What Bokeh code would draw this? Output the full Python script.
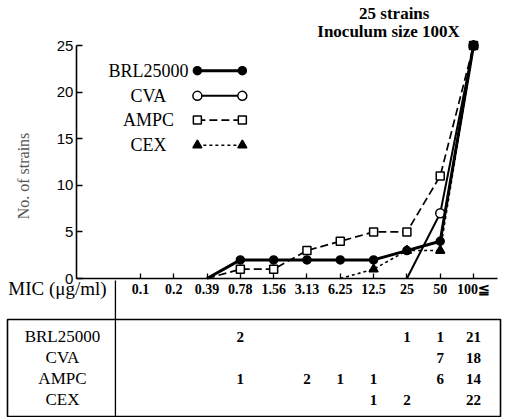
import numpy as np
from bokeh.plotting import figure
from bokeh.models import Range1d, LinearAxis, FixedTicker, Label
from bokeh.core.properties import value
from bokeh.embed import file_html
from bokeh.resources import INLINE

# MIC classes (ug/ml) and number of strains per class for each drug
mic_labels = ["0.1", "0.2", "0.39", "0.78", "1.56", "3.13", "6.25", "12.5", "25", "50", "100≦"]
drugs = ["BRL25000", "CVA", "AMPC", "CEX"]
brl25000 = [0, 0, 0, 2, 0, 0, 0, 0, 1, 1, 21]
cva = [0, 0, 0, 0, 0, 0, 0, 0, 0, 7, 18]
ampc = [0, 0, 0, 1, 0, 2, 1, 1, 0, 6, 14]
cex = [0, 0, 0, 0, 0, 0, 0, 1, 2, 0, 22]
y_ticks = [0, 5, 10, 15, 20, 25]
title_lines = ["25 strains", "Inoculum size 100X"]

counts = {"BRL25000": brl25000, "CVA": cva, "AMPC": ampc, "CEX": cex}

SERIF = "Liberation Serif"
SANS = "Liberation Sans"

# x: MIC class index, y: number of strains (cumulative)
X0, X1 = -4.2, 11.05
Y0, Y1 = -14.91, 29.83
AXIS_X = -1.92          # where the strain axis crosses
AXIS_XEND = 10.72

p = figure(width=508, height=417, x_range=Range1d(X0, X1), y_range=Range1d(Y0, Y1),
           output_backend="svg", toolbar_location=None,
           x_axis_location=None, y_axis_location=None,
           min_border=0, outline_line_color=None, background_fill_color="white")
for g in p.grid:
    g.visible = False

# table rows use their own vertical scale (row index, top to bottom)
p.extra_y_ranges = {"table": Range1d(start=3.857, end=-16.0)}

# --- axes -------------------------------------------------------------
xaxis = LinearAxis(
    ticker=FixedTicker(ticks=list(range(len(mic_labels)))),
    major_label_overrides={i: lab for i, lab in enumerate(mic_labels)},
    fixed_location=0, bounds=(AXIS_X, AXIS_XEND),
    axis_line_width=1.6, axis_line_color="black",
    major_tick_in=5, major_tick_out=0, major_tick_line_width=1.3,
    minor_tick_line_color=None,
    major_label_standoff=3,
    major_label_text_font=SERIF, major_label_text_font_style="bold",
    major_label_text_font_size="14px", major_label_text_color="black",
)
p.add_layout(xaxis, "below")

yaxis = LinearAxis(
    ticker=FixedTicker(ticks=y_ticks),
    fixed_location=AXIS_X, bounds=(0, 25),
    axis_line_width=1.6, axis_line_color="black",
    major_tick_in=6, major_tick_out=0, major_tick_line_width=1.3,
    minor_tick_line_color=None,
    major_label_standoff=3,
    major_label_text_font=SANS, major_label_text_font_size="15px",
    major_label_text_color="black",
)
p.add_layout(yaxis, "left")

# rotated caption of the strain axis
p.add_layout(Label(x=-3.5, y=11.0, text="No. of strains", angle=np.pi / 2,
                   text_align="center", text_baseline="middle", text_font=SERIF,
                   text_font_size="16px", text_color="#555555"))

# --- cumulative curves ------------------------------------------------
def curve(c):
    cum = np.cumsum(c)
    first = next(i for i, v in enumerate(c) if v > 0)
    xs = list(range(first - 1, len(c)))
    ys = [int(cum[i]) for i in xs]
    return xs, ys

styles = {
    "BRL25000": dict(line_width=3.0, line_dash="solid", marker="circle", size=8,
                     fill_color="black"),
    "CVA": dict(line_width=2.0, line_dash="solid", marker="circle", size=9,
                fill_color="white"),
    "AMPC": dict(line_width=1.7, line_dash="8 4", marker="square", size=8,
                 fill_color="white"),
    "CEX": dict(line_width=1.6, line_dash="3 3", marker="triangle", size=9,
                fill_color="black"),
}

for name in ["AMPC", "CEX", "CVA", "BRL25000"]:
    st = styles[name]
    xs, ys = curve(counts[name])
    p.line(xs, ys, line_color="black", line_width=st["line_width"], line_dash=st["line_dash"])
    p.scatter(xs[1:], ys[1:], marker=st["marker"], size=st["size"],
              fill_color=st["fill_color"], line_color="black", line_width=1.5)

# --- legend (label, then sample line with end markers) ----------------
leg_y = [22.3, 19.6, 17.0, 14.3]
leg_text_x = 0.24
leg_x0, leg_x1 = 1.71, 3.06
for name, ly in zip(drugs, leg_y):
    st = styles[name]
    p.text([leg_text_x], [ly], text=[name], text_align="center", text_baseline="middle",
           text_font=value(SERIF), text_font_size="18px", text_color="black")
    p.line([leg_x0, leg_x1], [ly, ly], line_color="black", line_width=st["line_width"],
           line_dash=st["line_dash"])
    p.scatter([leg_x0, leg_x1], [ly, ly], marker=st["marker"], size=st["size"],
              fill_color=st["fill_color"], line_color="black", line_width=1.5)

# --- title ------------------------------------------------------------
p.add_layout(Label(x=7.62, y=28.4, text=title_lines[0], text_align="center",
                   text_baseline="middle", text_font=SERIF, text_font_style="bold",
                   text_font_size="17px", text_color="black"))
p.add_layout(Label(x=7.45, y=26.5, text=title_lines[1], text_align="center",
                   text_baseline="middle", text_font=SERIF, text_font_style="bold",
                   text_font_size="17px", text_color="black"))

# --- MIC axis caption -------------------------------------------------
p.add_layout(Label(x=-2.49, y=-1.1, text="MIC (μg/ml)", text_align="center",
                   text_baseline="middle", text_font=SERIF, text_font_size="19px",
                   text_color="black"))

# --- count table ------------------------------------------------------
p.quad(left=[-3.99], right=[10.81], top=[-0.81], bottom=[3.81], y_range_name="table",
       fill_color=None, line_color="black", line_width=1.6)
p.segment(x0=[-0.75], y0=[-2.67], x1=[-0.75], y1=[3.81], y_range_name="table",
          line_color="black", line_width=1.3)

rows = list(range(len(drugs)))
p.text([-2.34] * len(drugs), rows, text=drugs, y_range_name="table",
       text_align="center", text_baseline="middle", text_font=value(SERIF),
       text_font_size="17px", text_color="black")

cell_x, cell_y, cell_t = [], [], []
for r, name in enumerate(drugs):
    for i, v in enumerate(counts[name]):
        if v > 0:
            cell_x.append(i)
            cell_y.append(r)
            cell_t.append(str(v))
p.text(cell_x, cell_y, text=cell_t, y_range_name="table", text_align="center",
       text_baseline="middle", text_font=value(SERIF), text_font_style="bold",
       text_font_size="15px", text_color="black")

open("out.html", "w").write(file_html(p, INLINE))
